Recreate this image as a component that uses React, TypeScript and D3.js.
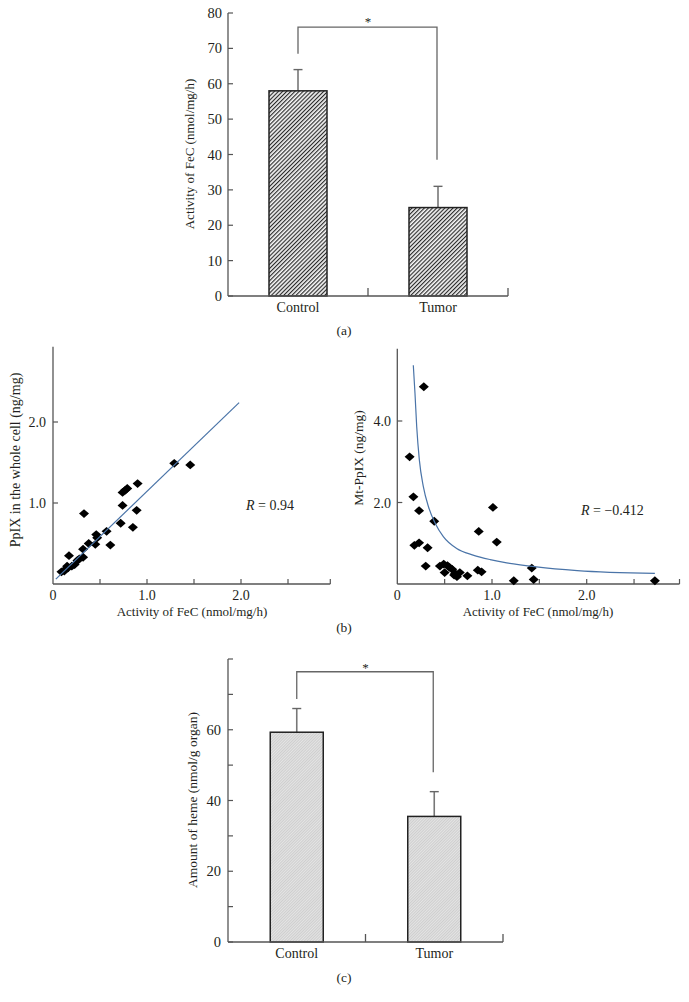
import React from "react";
import * as d3 from "d3";

// ---------- DATA ----------
const barCategories = ["Control", "Tumor"];
const fecActivity = [58, 25];
const fecErrorTop = [64, 31];
const hemeAmount = [59.3, 35.5];
const hemeErrorTop = [66, 42.5];

// significance brackets: [top, left leg bottom, right leg bottom]
const fecBracket = [76, 68.5, 38.5];
const hemeBracket = [76.4, 68.7, 48];

const fecYTicks = [0, 10, 20, 30, 40, 50, 60, 70, 80];
const hemeYTicks = [0, 10, 20, 30, 40, 50, 60, 70, 80];
const hemeYLabels = [0, 20, 40, 60];

// whole-cell PpIX vs FeC activity
const wholeCellX = [1.29, 1.46, 0.9, 0.79, 0.77, 0.74, 0.74, 0.33, 0.89, 0.72, 0.85, 0.57, 0.46, 0.47, 0.61, 0.45, 0.38, 0.32, 0.32, 0.28, 0.17, 0.23, 0.2, 0.16, 0.13, 0.09, 0.15, 0.26, 0.12];
const wholeCellY = [1.49, 1.47, 1.24, 1.18, 1.16, 1.13, 0.97, 0.87, 0.91, 0.75, 0.7, 0.65, 0.61, 0.57, 0.48, 0.49, 0.5, 0.43, 0.33, 0.31, 0.35, 0.24, 0.22, 0.2, 0.18, 0.15, 0.22, 0.29, 0.16];
const wholeCellFitX = [0.03, 1.98];
const wholeCellFitY = [0.06, 2.24];

// mitochondrial PpIX vs FeC activity
const mtX = [0.28, 0.13, 0.17, 0.23, 0.39, 0.18, 0.23, 0.32, 0.3, 1.01, 0.86, 1.05, 0.45, 0.49, 0.5, 0.55, 0.58, 0.61, 0.63, 0.66, 0.74, 0.85, 0.89, 1.23, 1.42, 1.44, 2.72, 0.6, 0.53];
const mtY = [4.84, 3.12, 2.14, 1.8, 1.54, 0.95, 1.01, 0.89, 0.44, 1.88, 1.29, 1.03, 0.44, 0.49, 0.28, 0.41, 0.36, 0.26, 0.18, 0.28, 0.2, 0.34, 0.3, 0.08, 0.39, 0.11, 0.08, 0.22, 0.45];
const mtFitX = [0.169, 0.187, 0.205, 0.233, 0.275, 0.33, 0.4, 0.486, 0.627, 0.8, 0.98, 1.155, 1.47, 1.9, 2.72];
const mtFitY = [5.37, 4.67, 3.86, 3.04, 2.39, 1.89, 1.49, 1.16, 0.87, 0.71, 0.6, 0.52, 0.42, 0.33, 0.26];

const scatterXTicks = [0.5, 1.0, 1.5, 2.0, 2.5];
const scatterXLabels = [0, 1.0, 2.0];
const wholeYLabels = [1.0, 2.0];
const mtYLabels = [2.0, 4.0];

// ---------- STYLE ----------
const FONT = "'Liberation Serif', 'Times New Roman', serif";
const TXT = "#231f20";
const AX = "#555";

const fmt = (v: number) => (v === 0 ? "0" : v.toFixed(1));

type BarProps = {
  y: d3.ScaleLinear<number, number>;
  x: d3.ScaleBand<string>;
  values: number[];
  errTop: number[];
  barW: number;
  fill: string;
  ticks: number[];
  labels: number[];
  bracket: number[];
  title: string;
  titleSize: number;
  titleX: number;
  titleY: number;
  labelX: number;
  caption: string;
  captionY: number;
  catY: number;
  starY: number;
};

function BarPanel(p: BarProps) {
  const [x0, x1] = p.x.range();
  const y0 = p.y(0);
  const yTop = p.y(80);
  const centers = barCategories.map((c) => (p.x(c) as number) + p.x.bandwidth() / 2);
  const bounds = barCategories.map((c) => (p.x(c) as number) + p.x.bandwidth());
  return (
    <g>
      {barCategories.map((c, i) => (
        <g key={c}>
          <line x1={centers[i]} x2={centers[i]} y1={p.y(p.values[i])} y2={p.y(p.errTop[i])} stroke="#777" strokeWidth={1.6} />
          <line x1={centers[i] - 4.5} x2={centers[i] + 4.5} y1={p.y(p.errTop[i])} y2={p.y(p.errTop[i])} stroke="#666" strokeWidth={1.4} />
          <rect x={centers[i] - p.barW / 2} y={p.y(p.values[i])} width={p.barW} height={y0 - p.y(p.values[i])} fill={p.fill} stroke="#222" strokeWidth={1.5} />
          <text x={centers[i]} y={p.catY} textAnchor="middle" fontSize={14} fontFamily={FONT} fill={TXT}>{c}</text>
        </g>
      ))}
      <path
        d={`M${centers[0]},${p.y(p.bracket[1])}V${p.y(p.bracket[0])}H${centers[1] - 1}V${p.y(p.bracket[2])}`}
        fill="none" stroke="#666" strokeWidth={1.3}
      />
      <text x={(centers[0] + centers[1]) / 2} y={p.starY} textAnchor="middle" fontSize={13} fontFamily={FONT} fill={TXT}>*</text>
      <line x1={x0} x2={x0} y1={yTop} y2={y0} stroke={AX} strokeWidth={1.3} />
      <line x1={x0} x2={x1} y1={y0} y2={y0} stroke={AX} strokeWidth={1.3} />
      {bounds.map((b, i) => (
        <line key={i} x1={b} x2={b} y1={y0} y2={y0 - 8} stroke={AX} strokeWidth={1.3} />
      ))}
      {p.ticks.map((t) => (
        <line key={t} x1={x0} x2={x0 + 5} y1={p.y(t)} y2={p.y(t)} stroke={AX} strokeWidth={1.2} />
      ))}
      {p.labels.map((t) => (
        <text key={t} x={p.labelX} y={p.y(t) + 5} textAnchor="end" fontSize={14.5} fontFamily={FONT} fill={TXT}>{t}</text>
      ))}
      <text transform={`translate(${p.titleX},${p.titleY}) rotate(-90)`} textAnchor="middle" fontSize={p.titleSize} fontFamily={FONT} fill={TXT}>{p.title}</text>
      <text x={344} y={p.captionY} textAnchor="middle" fontSize={13.5} fontFamily={FONT} fill={TXT}>{p.caption}</text>
    </g>
  );
}

type ScatterProps = {
  x: d3.ScaleLinear<number, number>;
  y: d3.ScaleLinear<number, number>;
  xEnd: number;
  yEnd: number;
  px: number[];
  py: number[];
  fx: number[];
  fy: number[];
  smooth: boolean;
  yLabels: number[];
  yLabelX: number;
  title: string;
  titleSize: number;
  titleX: number;
  titleY: number;
  xTitleX: number;
  rLabel: string;
  rX: number;
  rY: number;
};

function ScatterPanel(p: ScatterProps) {
  const x0 = p.x(0);
  const y0 = p.y(0);
  const xe = p.x(p.xEnd);
  const ye = p.y(p.yEnd);
  const fitPts: [number, number][] = p.fx.map((v, i) => [v, p.fy[i]]);
  const line = d3
    .line<[number, number]>()
    .x((d) => p.x(d[0]))
    .y((d) => p.y(d[1]))
    .curve(p.smooth ? d3.curveMonotoneX : d3.curveLinear);
  const dw = 5;
  const dh = 4.4;
  return (
    <g>
      <line x1={x0} x2={x0} y1={ye} y2={y0} stroke={AX} strokeWidth={1.3} />
      <line x1={x0} x2={xe} y1={y0} y2={y0} stroke={AX} strokeWidth={1.3} />
      {[...scatterXTicks, p.xEnd].map((t) => (
        <line key={t} x1={p.x(t)} x2={p.x(t)} y1={y0} y2={y0 - 5} stroke={AX} strokeWidth={1.2} />
      ))}
      {p.yLabels.map((t) => (
        <g key={t}>
          <line x1={x0} x2={x0 + 5} y1={p.y(t)} y2={p.y(t)} stroke={AX} strokeWidth={1.2} />
          <text x={p.yLabelX} y={p.y(t) + 5} textAnchor="end" fontSize={14} fontFamily={FONT} fill={TXT}>{fmt(t)}</text>
        </g>
      ))}
      {scatterXLabels.map((t) => (
        <text key={t} x={p.x(t)} y={600} textAnchor="middle" fontSize={14} fontFamily={FONT} fill={TXT}>{fmt(t)}</text>
      ))}
      {p.px.map((v, i) => {
        const cx = p.x(v);
        const cy = p.y(p.py[i]);
        return <path key={i} d={`M${cx - dw},${cy}L${cx},${cy - dh}L${cx + dw},${cy}L${cx},${cy + dh}Z`} fill="#000" />;
      })}
      <path d={line(fitPts) || ""} fill="none" stroke="#4a74a8" strokeWidth={1.2} />
      <text x={p.rX} y={p.rY} fontSize={14} fontFamily={FONT} fill={TXT}>
        <tspan fontStyle="italic">R</tspan> {p.rLabel}
      </text>
      <text transform={`translate(${p.titleX},${p.titleY}) rotate(-90)`} textAnchor="middle" fontSize={p.titleSize} fontFamily={FONT} fill={TXT}>{p.title}</text>
      <text x={p.xTitleX} y={616} textAnchor="middle" fontSize={13} fontFamily={FONT} fill={TXT}>Activity of FeC (nmol/mg/h)</text>
    </g>
  );
}

export default function App() {
  const yA = d3.scaleLinear().domain([0, 80]).range([296, 13]);
  const xA = d3.scaleBand<string>().domain(barCategories).range([228, 508]);
  const yC = d3.scaleLinear().domain([0, 80]).range([942, 659]);
  const xC = d3.scaleBand<string>().domain(barCategories).range([228, 503]);

  const xL = d3.scaleLinear().domain([0, 2]).range([53, 241]);
  const yL = d3.scaleLinear().domain([0, 2]).range([584, 422]);
  const xR = d3.scaleLinear().domain([0, 2]).range([397.3, 586.7]);
  const yR = d3.scaleLinear().domain([0, 4]).range([584, 421]);

  return (
    <svg width={689} height={1002} style={{ position: "absolute", left: 0, top: 0, background: "#fff" }}>
      <defs>
        <pattern id="hatchA" patternUnits="userSpaceOnUse" width={2.9} height={2.9} patternTransform="rotate(45)">
          <rect width={2.9} height={2.9} fill="#f4f4f4" />
          <line x1={0} y1={0} x2={0} y2={2.9} stroke="#2a2a2a" strokeWidth={2.3} />
        </pattern>
        <pattern id="hatchC" patternUnits="userSpaceOnUse" width={2} height={2} patternTransform="rotate(45)">
          <rect width={2} height={2} fill="#e4e4e4" />
          <line x1={0} y1={0} x2={0} y2={2} stroke="#b4b4b4" strokeWidth={0.9} />
        </pattern>
      </defs>
      <rect width={689} height={1002} fill="#fff" />

      <BarPanel
        y={yA} x={xA} values={fecActivity} errTop={fecErrorTop} barW={58} fill="url(#hatchA)"
        ticks={fecYTicks} labels={fecYTicks} bracket={fecBracket}
        title="Activity of FeC (nmol/mg/h)" titleSize={13} titleX={194} titleY={154} labelX={222}
        caption="(a)" captionY={335} catY={312} starY={26}
      />

      <ScatterPanel
        x={xL} y={yL} xEnd={2.95} yEnd={2.93} px={wholeCellX} py={wholeCellY}
        fx={wholeCellFitX} fy={wholeCellFitY} smooth={false}
        yLabels={wholeYLabels} yLabelX={46}
        title="PpIX in the whole cell (ng/mg)" titleSize={14} titleX={20} titleY={460} xTitleX={192}
        rLabel="= 0.94" rX={246} rY={510}
      />
      <ScatterPanel
        x={xR} y={yR} xEnd={2.98} yEnd={5.77} px={mtX} py={mtY}
        fx={mtFitX} fy={mtFitY} smooth={true}
        yLabels={mtYLabels} yLabelX={391}
        title="Mt-PpIX (ng/mg)" titleSize={13.5} titleX={363} titleY={458} xTitleX={538}
        rLabel="= −0.412" rX={581} rY={515}
      />
      <text x={344} y={632} textAnchor="middle" fontSize={13.5} fontFamily={FONT} fill={TXT}>(b)</text>

      <BarPanel
        y={yC} x={xC} values={hemeAmount} errTop={hemeErrorTop} barW={53} fill="url(#hatchC)"
        ticks={hemeYTicks} labels={hemeYLabels} bracket={hemeBracket}
        title="Amount of heme (nmol/g organ)" titleSize={13.5} titleX={197} titleY={800} labelX={221}
        caption="(c)" captionY={982} catY={958} starY={672}
      />
    </svg>
  );
}
